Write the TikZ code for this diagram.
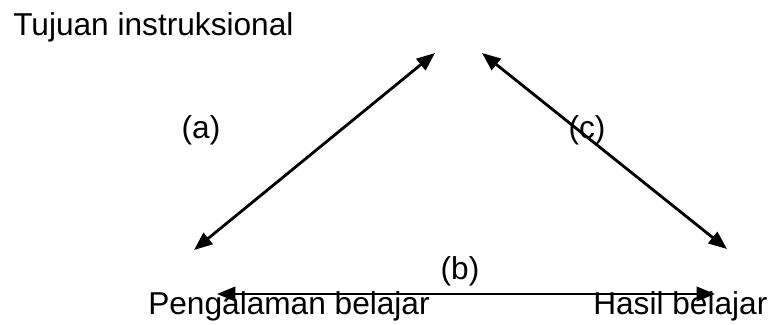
\documentclass[tikz,border=0pt]{standalone}
\usepackage{fontspec}
\setmainfont{Liberation Sans}
\usetikzlibrary{arrows.meta}

\begin{document}
\begin{tikzpicture}[
    x=0.025cm,
    y=-0.025cm,
    font=\fontsize{22.5}{27}\selectfont,
    panah/.style={line width=2pt,{Triangle[length=0.46cm,width=0.36cm]}-{Triangle[length=0.46cm,width=0.36cm]}},
    teks/.style={inner sep=0pt,anchor=base west}
]
    \useasboundingbox (0,0) rectangle (769,324);

    \node[teks] (tujuan) at (13,35) {Tujuan instruksional};
    \node[teks] (pengalaman) at (148,314) {Pengalaman belajar};
    \node[teks] (hasil) at (593,314) {Hasil belajar};

    \coordinate (puncakkiri) at (435,53);
    \coordinate (puncakkanan) at (482,53);
    \coordinate (kiribawah) at (194,250);
    \coordinate (kananbawah) at (727,249);
    \coordinate (dasarkiri) at (217,294);
    \coordinate (dasarkanan) at (715,294);

    \draw[panah] (kiribawah) -- (puncakkiri);
    \draw[panah] (puncakkanan) -- (kananbawah);
    \draw[panah] (dasarkiri) -- (dasarkanan);

    \node[inner sep=0pt] (la) at (201,130) {(a)};
    \node[inner sep=0pt] (lb) at (460,271) {(b)};
    \node[inner sep=0pt] (lc) at (587,130) {(c)};
\end{tikzpicture}
\end{document}
